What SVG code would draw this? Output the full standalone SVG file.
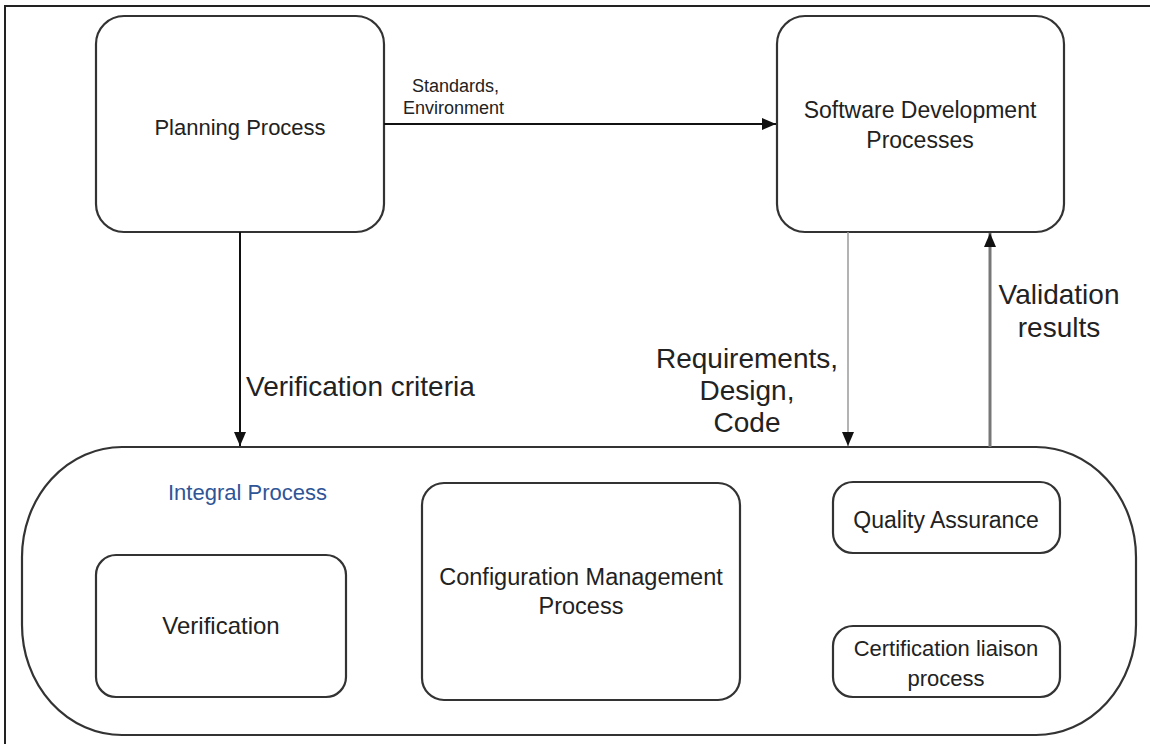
<svg xmlns="http://www.w3.org/2000/svg" width="1150" height="744" viewBox="0 0 1150 744">
  <style>
    .box { fill: #ffffff; stroke: #333333; stroke-width: 2.2; }
    .lbl { font-family: "Liberation Sans", Arial, sans-serif; fill: #222222; }
    .big { font-size: 28px; }
    .mid { font-size: 22px; }
    .inner { font-size: 23px; }
    .sml { font-size: 18px; }
    .conn { fill: none; stroke: #111111; stroke-width: 2; }
  </style>
  <defs>
    <marker id="arrow" markerUnits="userSpaceOnUse" markerWidth="16" markerHeight="14" refX="14" refY="7" orient="auto">
      <path d="M0,1 L14,7 L0,13 Z" fill="#111111"/>
    </marker>
  </defs>

  <rect x="0" y="0" width="1150" height="744" fill="#ffffff"/>
  <!-- outer frame -->
  <path d="M5,744 L5,6 L1150,6" fill="none" stroke="#222222" stroke-width="2"/>

  <!-- Planning Process -->
  <g id="planning">
    <rect class="box" x="96" y="16" width="288" height="216" rx="28" ry="28"/>
    <text class="lbl mid" x="240" y="135" text-anchor="middle">Planning Process</text>
  </g>

  <!-- Software Development Processes -->
  <g id="software-dev">
    <rect class="box" x="777" y="16" width="287" height="216" rx="28" ry="28"/>
    <text class="lbl inner" x="920" y="118" text-anchor="middle">Software Development</text>
    <text class="lbl inner" x="920" y="148" text-anchor="middle">Processes</text>
  </g>

  <!-- Integral Process container -->
  <g id="integral">
    <rect class="box" x="22" y="447" width="1114" height="288" rx="100" ry="110"/>
    <text class="lbl" x="168" y="500" style="fill:#2f5597;font-size:22px">Integral Process</text>
  </g>

  <g id="verification">
    <rect class="box" x="96" y="555" width="250" height="142" rx="20" ry="20"/>
    <text class="lbl" x="221" y="634" text-anchor="middle" style="font-size:24px">Verification</text>
  </g>

  <g id="config-mgmt">
    <rect class="box" x="422" y="483" width="318" height="217" rx="22" ry="22"/>
    <text class="lbl" x="581" y="585" text-anchor="middle" style="font-size:23.5px">Configuration Management</text>
    <text class="lbl" x="581" y="614" text-anchor="middle" style="font-size:23.5px">Process</text>
  </g>

  <g id="quality-assurance">
    <rect class="box" x="833" y="482" width="227" height="71" rx="20" ry="20"/>
    <text class="lbl inner" x="946" y="528" text-anchor="middle">Quality Assurance</text>
  </g>

  <g id="cert-liaison">
    <rect class="box" x="833" y="626" width="227" height="71" rx="20" ry="20"/>
    <text class="lbl mid" x="946" y="656" text-anchor="middle">Certification liaison</text>
    <text class="lbl mid" x="946" y="686" text-anchor="middle">process</text>
  </g>

  <!-- connectors -->
  <g id="connectors">
    <path class="conn" d="M384,124 L776,124" marker-end="url(#arrow)"/>
    <path class="conn" d="M240,232 L240,446" marker-end="url(#arrow)"/>
    <path class="conn" d="M848,232 L848,446" style="stroke:#9a9a9a;stroke-width:1.5" marker-end="url(#arrow)"/>
    <path class="conn" d="M990,447 L990,233" style="stroke:#777777;stroke-width:3" marker-end="url(#arrow)"/>

    <text class="lbl sml" x="412" y="92">Standards,</text>
    <text class="lbl sml" x="403" y="114">Environment</text>
    <text class="lbl big" x="246" y="396">Verification criteria</text>
    <text class="lbl big" x="747" y="368" text-anchor="middle">Requirements,</text>
    <text class="lbl big" x="747" y="400" text-anchor="middle">Design,</text>
    <text class="lbl big" x="747" y="432" text-anchor="middle">Code</text>
    <text class="lbl big" x="1059" y="304" text-anchor="middle">Validation</text>
    <text class="lbl big" x="1059" y="337" text-anchor="middle">results</text>
  </g>
</svg>
